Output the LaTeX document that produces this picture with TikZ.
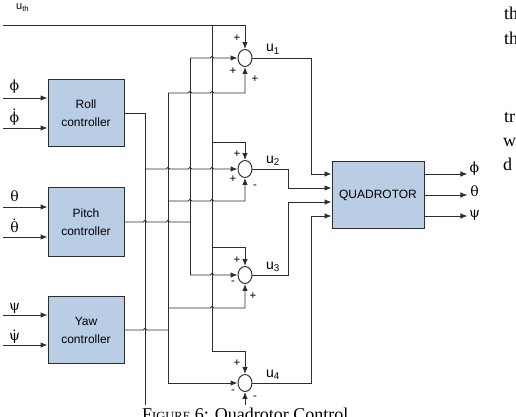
\documentclass[tikz,border=0pt]{standalone}
\usepackage{fontspec}
\setmainfont{Liberation Serif}
\setsansfont{Liberation Sans}
\newfontfamily\grk{DejaVu Serif}
\usetikzlibrary{arrows.meta,shapes.geometric}
\definecolor{boxfill}{RGB}{185,205,229}
\definecolor{linec}{RGB}{45,45,45}
\newcommand\hp[2]{-- (#1-1.8,#2) .. controls +(0,-2.4) and +(0,-2.4) .. (#1+1.8,#2)}
\newcommand\dotabove[1]{\leavevmode\setbox0\hbox{#1}\rlap{\hbox to\wd0{\hss\raisebox{\dimexpr\ht0+1pt\relax}{\fontsize{13}{13}\selectfont .}\hss}}\box0}
\begin{document}
\begin{tikzpicture}[x=1pt,y=-1pt,
  wire/.style={draw=linec,line width=0.95pt},
  arr/.style={wire,-{Latex[length=7pt,width=5.5pt]}},
  ctrl/.style={draw=linec,fill=boxfill,line width=0.9pt,minimum width=76pt,minimum height=67pt,inner sep=0pt,align=center,font=\sffamily\fontsize{12}{18}\selectfont},
  sumj/.style={ellipse,draw=linec,fill=white,line width=0.95pt,minimum width=14pt,minimum height=17pt,inner sep=0pt},
  sgn/.style={font=\sffamily\fontsize{11.5}{11.5}\selectfont,inner sep=0pt},
  greek/.style={font=\grk\fontsize{14}{14}\selectfont,inner sep=0pt,anchor=base},
  ulab/.style={font=\sffamily\fontsize{14}{14}\selectfont,inner sep=0pt,anchor=base west},
  bodytxt/.style={font=\fontsize{18}{18}\selectfont,inner sep=0pt,anchor=base west}]
\useasboundingbox (0,0) rectangle (516,417);
\clip (0,0) rectangle (516,417);

% blocks
\node[ctrl] (roll) at (86,113) {Roll\\controller};
\node[ctrl,minimum height=69pt] (pitch) at (86,222) {Pitch\\controller};
\node[ctrl] (yaw) at (86,330) {Yaw\\controller};
\node[ctrl,minimum width=92pt] (quad) at (378,195) {QUADROTOR};
\node[sumj] (j1) at (245,58) {};
\node[sumj] (j2) at (245,169) {};
\node[sumj] (j3) at (245,275) {};
\node[sumj] (j4) at (245,383) {};

% inputs to controllers
\coordinate (iphi) at (3,98);   \draw[arr] (iphi) -- (iphi -| roll.west);
\coordinate (idphi) at (3,128); \draw[arr] (idphi) -- (idphi -| roll.west);
\coordinate (ith) at (3,207);   \draw[arr] (ith) -- (ith -| pitch.west);
\coordinate (idth) at (3,237);  \draw[arr] (idth) -- (idth -| pitch.west);
\coordinate (ipsi) at (3,315);  \draw[arr] (ipsi) -- (ipsi -| yaw.west);
\coordinate (idpsi) at (3,345); \draw[arr] (idpsi) -- (idpsi -| yaw.west);

% thrust
\coordinate (uth) at (3,25);
\draw[arr] (uth) -| (j1.north);
\draw[arr] (212,25) -- (212,351) -| (j4.north);
\draw[arr] (212,142) -| (j2.north);
\draw[arr] (212,247) -| (j3.north);

% roll
\draw[wire] (roll.east) -| (145,405);
\draw[arr] (145,169) \hp{168}{169}\hp{190}{169}\hp{212}{169} -- (j2.west);

% pitch
\draw[wire] (pitch.east) \hp{145}{222}\hp{168}{222} -- (190,222);
\draw[wire] (190,58) -- (190,275);
\draw[arr] (190,58) \hp{212}{58} -- (j1.west);
\draw[arr] (190,275) \hp{212}{275} -- (j3.west);

% yaw
\draw[wire] (yaw.east) \hp{145}{330} -- (168,330);
\draw[arr] (168,93) -- (168,383) -- (j4.west);
\draw[arr] (168,93) \hp{190}{93}\hp{212}{93} -| (j1.south);
\draw[arr] (168,201) \hp{190}{201}\hp{212}{201} -| (j2.south);
\draw[arr] (168,308) \hp{212}{308} -| (j3.south);
\coordinate (b4) at (245,405);
\draw[arr] (b4) -- (j4.south);

% junction outputs to quadrotor
\draw[arr] (j1.east) -| (311,174) -- ([yshift=21pt]quad.west);
\draw[arr] (j2.east) -| (288,188) -- ([yshift=7pt]quad.west);
\draw[arr] (j3.east) -| (288,202) -- ([yshift=-7pt]quad.west);
\draw[arr] (j4.east) -| (311,216) -- ([yshift=-21pt]quad.west);

% quadrotor outputs
\draw[arr] ([yshift=21pt]quad.east) -- ++(43,0) coordinate (ophi);
\draw[arr] (quad.east) -- ++(43,0) coordinate (oth);
\draw[arr] ([yshift=-21pt]quad.east) -- ++(43,0) coordinate (opsi);

% greek labels
\node[greek] (lphi) at (14.5,91) {ϕ};
\node[greek] (ldphi) at (14.5,122) {\dotabove{ϕ}};
\node[greek] (lth) at (14.5,201) {θ};
\node[greek] (ldth) at (14.5,232) {\dotabove{θ}};
\node[greek] (lpsi) at (14.5,310) {ψ};
\node[greek] (ldpsi) at (14.5,340) {\dotabove{ψ}};
\node[greek] (lophi) at (474.5,172) {ϕ};
\node[greek] (loth) at (474.5,196) {θ};
\node[greek] (lopsi) at (474.5,217) {ψ};

% u labels
\node[ulab,font=\sffamily\fontsize{11}{11}\selectfont] (luth) at (16,10) {u\textsubscript{th}};
\node[ulab] (lu1) at (266,52) {u\textsubscript{1}};
\node[ulab] (lu2) at (266,163) {u\textsubscript{2}};
\node[ulab] (lu3) at (266,269) {u\textsubscript{3}};
\node[ulab] (lu4) at (266,377) {u\textsubscript{4}};

% signs
\node[sgn] (s1a) at (237,38) {+};
\node[sgn] (s1b) at (233,71) {+};
\node[sgn] (s1c) at (255,79) {+};
\node[sgn] (s2a) at (237,154) {+};
\node[sgn] (s2b) at (233,179) {+};
\node[sgn] (s2c) at (255,187) {-};
\node[sgn] (s3a) at (237,260) {+};
\node[sgn] (s3b) at (233,283) {-};
\node[sgn] (s3c) at (253,296) {+};
\node[sgn] (s4a) at (237,363) {+};
\node[sgn] (s4b) at (233,392) {-};
\node[sgn] (s4c) at (255,398) {-};

% caption and cut body text
\node[bodytxt] (cap) at (142,420) {F{\fontsize{12.5}{12.5}\selectfont IGURE} 6: Quadrotor Control};
\node[bodytxt] (t1) at (504,20) {th};
\node[bodytxt] (t2) at (504,45) {th};
\node[bodytxt] (t3) at (504,122) {tr};
\node[bodytxt] (t4) at (503,146) {w};
\node[bodytxt] (t5) at (503,170) {d};
\end{tikzpicture}
\end{document}
